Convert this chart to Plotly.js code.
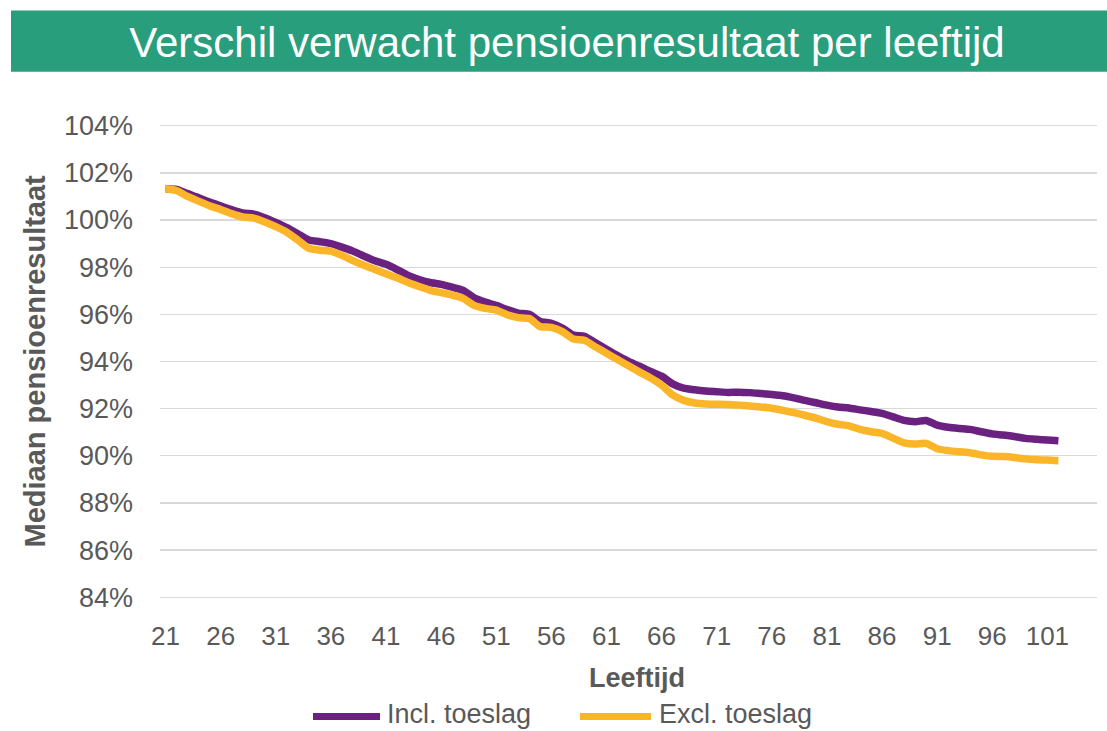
<!DOCTYPE html>
<html>
<head>
<meta charset="utf-8">
<script src="https://cdn.plot.ly/plotly-3.0.1.min.js"></script>
<style>
html,body{margin:0;padding:0;background:#fff;}
#chart{width:1107px;height:731px;}
</style>
</head>
<body>
<div id="chart"></div>
<script>
const ages = [21,22,23,24,25,26,27,28,29,30,31,32,33,34,35,36,37,38,39,40,
  41,42,43,44,45,46,47,48,49,50,51,52,53,54,55,56,57,58,59,60,
  61,62,63,64,65,66,67,68,69,70,71,72,73,74,75,76,77,78,79,80,
  81,82,83,84,85,86,87,88,89,90,91,92,93,94,95,96,97,98,99,100,101,102];

const inclToeslag = [101.33,101.30,101.12,100.95,100.76,100.60,100.44,100.30,100.25,100.10,
  99.90,99.68,99.42,99.15,99.08,99.00,98.85,98.68,98.47,98.27,
  98.12,97.90,97.65,97.48,97.35,97.27,97.15,97.02,96.70,96.52,
  96.38,96.20,96.05,96.00,95.70,95.62,95.42,95.12,95.07,94.80,
  94.52,94.25,94.00,93.80,93.58,93.38,93.05,92.87,92.80,92.75,
  92.72,92.69,92.70,92.68,92.64,92.60,92.55,92.46,92.35,92.25,
  92.15,92.07,92.03,91.95,91.88,91.80,91.65,91.50,91.45,91.50,
  91.30,91.21,91.16,91.12,91.02,90.93,90.88,90.82,90.74,90.70,90.67,90.64];

const exclToeslag = [101.33,101.25,101.00,100.80,100.60,100.45,100.27,100.13,100.08,99.92,
  99.72,99.48,99.15,98.80,98.72,98.68,98.50,98.28,98.08,97.90,
  97.72,97.55,97.35,97.18,97.02,96.92,96.82,96.68,96.38,96.25,
  96.18,95.98,95.86,95.82,95.48,95.45,95.27,94.95,94.90,94.62,
  94.35,94.08,93.82,93.55,93.30,93.00,92.58,92.35,92.24,92.20,
  92.19,92.18,92.15,92.11,92.07,92.02,91.93,91.83,91.72,91.60,
  91.45,91.34,91.27,91.12,91.02,90.95,90.75,90.55,90.50,90.53,
  90.30,90.22,90.17,90.13,90.04,89.98,89.97,89.93,89.87,89.83,89.82,89.79];

const xTickVals = [21,26,31,36,41,46,51,56,61,66,71,76,81,86,91,96,101];
const yTickVals = [84,86,88,90,92,94,96,98,100,102,104];
const yTickText = ["84%","86%","88%","90%","92%","94%","96%","98%","100%","102%","104%"];
const seriesNames = ["Incl. toeslag","Excl. toeslag"];
const seriesColors = ["#6b2180","#fbb529"];
const titleText = "Verschil verwacht pensioenresultaat per leeftijd";
const yTitle = "Mediaan pensioenresultaat";
const xTitle = "Leeftijd";

const FONT = "'Liberation Sans', Arial, sans-serif";
const GREY = "#595959";

// plot area in pixels
const L = 160, R = 10, T = 121.3, B = 129.3, W = 1107, H = 731;
const PW = W - L - R, PH = H - T - B;
const px = p => (p - L) / PW;
const py = p => (H - B - p) / PH;

const traces = seriesNames.map((n, i) => ({
  x: ages, y: i === 0 ? inclToeslag : exclToeslag, name: n,
  type: "scatter", mode: "lines", showlegend: false,
  line: {color: seriesColors[i], width: 7.5, shape: "spline", smoothing: 0.6}
}));

// legend (drawn by hand so the swatches match the original's long line samples)
const legendItems = [
  {sx0: 313, sx1: 380, tx: 386},
  {sx0: 580, sx1: 651, tx: 658}
];
const legendY = 716;

const shapes = [{type: "rect", xref: "paper", yref: "paper",
  x0: px(11), x1: px(1110), y0: py(72), y1: py(11),
  fillcolor: "#299e7c", line: {width: 0}, layer: "below"}];
const annotations = [
  {text: yTitle, xref: "paper", yref: "paper", x: px(35), y: py(361.5),
   textangle: -90, showarrow: false, xanchor: "center", yanchor: "middle",
   font: {family: FONT, size: 29, color: GREY, weight: "bold"}},
  {text: xTitle, xref: "paper", yref: "paper", x: px(637), y: py(678),
   showarrow: false, xanchor: "center", yanchor: "middle",
   font: {family: FONT, size: 27, color: GREY, weight: "bold"}}
];
legendItems.forEach((it, i) => {
  shapes.push({type: "line", xref: "paper", yref: "paper",
    x0: px(it.sx0), x1: px(it.sx1), y0: py(legendY), y1: py(legendY),
    line: {color: seriesColors[i], width: 7}});
  annotations.push({text: seriesNames[i], xref: "paper", yref: "paper",
    x: px(it.tx), y: py(730), xanchor: "left", yanchor: "bottom",
    showarrow: false, borderpad: 0, font: {family: FONT, size: 27, color: GREY}});
});

const layout = {
  width: W, height: H,
  margin: {l: L, r: R, t: T, b: B, autoexpand: false},
  paper_bgcolor: "#ffffff", plot_bgcolor: "#ffffff",
  font: {family: FONT, color: GREY},
  title: {text: titleText, font: {family: FONT, size: 42, color: "#ffffff"},
          x: 567/W, xref: "container", xanchor: "center",
          y: 1 - 42/H, yref: "container", yanchor: "middle"},
  shapes: shapes,
  annotations: annotations,
  xaxis: {range: [20.5, 105.5], tickmode: "array", tickvals: xTickVals,
          showgrid: false, zeroline: false, showline: false, ticks: "",
          tickfont: {family: FONT, size: 26, color: GREY}, ticklabelstandoff: 16},
  yaxis: {range: [83.8, 104.2], tickmode: "array",
          tickvals: yTickVals, ticktext: yTickText,
          showgrid: true, gridcolor: "#d9d9d9", gridwidth: 1.3,
          zeroline: false, showline: false, ticks: "",
          tickfont: {family: FONT, size: 27, color: GREY}, ticklabelstandoff: 26},
  showlegend: false
};

Plotly.newPlot("chart", traces, layout, {displayModeBar: false, staticPlot: true});
</script>
</body>
</html>
